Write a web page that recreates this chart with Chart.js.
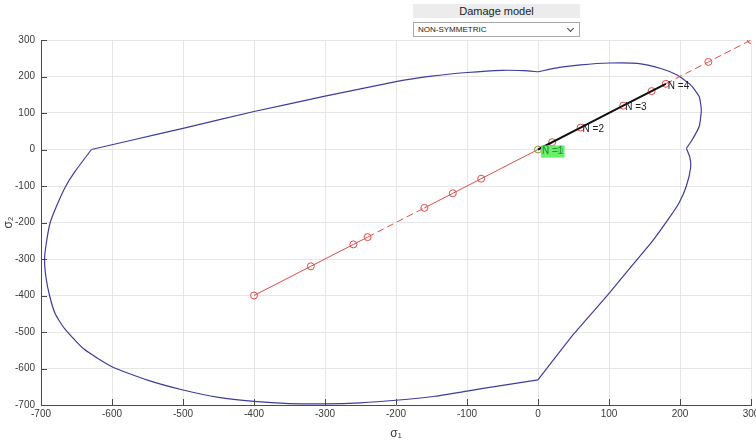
<!DOCTYPE html>
<html>
<head>
<meta charset="utf-8">
<script src="https://cdn.jsdelivr.net/npm/chart.js@4.4.1/dist/chart.umd.min.js"></script>
<style>
  html, body { margin: 0; padding: 0; background: #ffffff; }
  #wrap { position: relative; width: 756px; height: 446px; overflow: hidden; }
  #plot { position: absolute; left: 0; top: 0; display: block; }
  .panel-title {
    position: absolute; left: 413px; top: 4px; width: 167px; height: 14px;
    background: #ececec; color: #222; font: 11px "Liberation Sans", Arial, sans-serif;
    text-align: center; line-height: 14px;
  }
  .panel-select {
    position: absolute; left: 413px; top: 22px; width: 167px; height: 15px;
    background: #ffffff; border: 1px solid #a9a9a9; box-sizing: border-box;
    font: 8px "Liberation Sans", Arial, sans-serif; color: #222; line-height: 13px;
    padding-left: 4px;
  }
  .panel-select .chev {
    position: absolute; right: 6px; top: 3px; width: 4px; height: 4px;
    border-right: 1.3px solid #444; border-bottom: 1.3px solid #444; transform: rotate(45deg);
  }
</style>
</head>
<body>
<div id="wrap">
  <canvas id="plot" width="756" height="446"></canvas>
  <div class="panel-title">Damage model</div>
  <div class="panel-select">NON-SYMMETRIC<span class="chev"></span></div>
</div>
<script>
// Damage surface outline, split at its sharp corners so each smooth piece can be curved
const surfTopLeftS1  = [-629, -571, -500, -400, -300, -200, -150, -100, -50, -20, 0];
const surfTopLeftS2  = [0, 26, 58, 104, 146, 186, 201, 211, 217, 216, 213];
const surfTopRightS1 = [0, 30, 60, 100, 140, 173, 196, 215, 227, 230, 227, 217, 209];
const surfTopRightS2 = [213, 225, 232, 237, 236, 222, 204, 177, 145, 108, 63, 26, 3];
const surfRightS1    = [209, 214, 215, 209, 199, 186, 160, 135, 98, 51, 0];
const surfRightS2    = [3, -22, -50, -100, -145, -184, -254, -312, -399, -504, -631];
const surfBottomS1   = [0, -50, -100, -145, -200, -250, -300, -350, -400, -450, -500, -550, -600, -640, -667, -680, -688, -693, -695, -692, -687, -677, -665, -652, -629];
const surfBottomS2   = [-631, -646, -662, -676, -687, -694, -697, -696, -690, -679, -659, -632, -595, -546, -490, -450, -400, -350, -300, -250, -200, -150, -100, -60, 0];

// Proportional load path (sigma2 = sigma1), with the marked load steps
const pathS1 = [-400, -320, -260, -240, -160, -120, -80, 0, 20, 60, 120, 160, 180, 240, 300];
const pathS2 = [-400, -320, -260, -240, -160, -120, -80, 0, 20, 60, 120, 160, 180, 240, 300];
const pathDashedFrom = [3, 12, 13];   // segments starting at these steps are dashed

// Applied cycles
const cycleS1 = [0, 60, 120, 180];
const cycleS2 = [0, 60, 120, 180];

// Cycle annotations
const labelS1 = [0, 0, 60, 120, 180];
const labelS2 = [0, 0, 60, 120, 180];
const labelText = ['N =0', 'N =1', 'N =2', 'N =3', 'N =4'];
const labelHighlight = [true, true, false, false, false];

// Axis setup
const axisS1 = { min: -700, max: 300, step: 100 };
const axisS2 = { min: -700, max: 300, step: 100 };

const pts = (xs, ys) => xs.map((v, i) => ({ x: v, y: ys[i] }));

const BLUE = '#3d3d9c';
const RED = '#de4b47';
const FONT = '"Liberation Sans", Arial, sans-serif';

const surfStyle = {
  showLine: true, borderColor: BLUE, borderWidth: 1.2, pointRadius: 0,
  tension: 0.18, fill: false, order: 3
};

const innerTicks = {
  id: 'innerTicks',
  beforeDatasetsDraw(chart) {
    const { ctx, chartArea: a, scales: { x, y } } = chart;
    ctx.save();
    ctx.strokeStyle = '#4a4a4a';
    ctx.lineWidth = 1;
    ctx.beginPath();
    x.ticks.forEach(t => {
      const px = Math.round(x.getPixelForValue(t.value)) + 0.5;
      ctx.moveTo(px, a.bottom);
      ctx.lineTo(px, a.bottom - 6);
    });
    y.ticks.forEach(t => {
      const py = Math.round(y.getPixelForValue(t.value)) + 0.5;
      ctx.moveTo(a.left, py);
      ctx.lineTo(a.left + 6, py);
    });
    ctx.stroke();
    ctx.restore();
  }
};

const cycleLabels = {
  id: 'cycleLabels',
  afterDatasetsDraw(chart) {
    const { ctx, scales: { x, y } } = chart;
    ctx.save();
    ctx.font = '10px ' + FONT;
    ctx.textBaseline = 'middle';
    ctx.textAlign = 'left';
    labelText.forEach((txt, i) => {
      const cx = x.getPixelForValue(labelS1[i]);
      const py = y.getPixelForValue(labelS2[i]) + 2;
      if (labelHighlight[i]) {
        const px = cx + 4;
        const w = ctx.measureText(txt).width;
        ctx.fillStyle = 'rgba(90,240,90,0.7)';
        ctx.fillRect(px - 1, py - 6, w + 2, 12);
        ctx.fillStyle = '#2a8a50';
        ctx.fillText(txt, px, py);
      } else {
        ctx.fillStyle = '#222222';
        ctx.fillText(txt, cx + 2, py);
      }
    });
    ctx.restore();
  }
};

new Chart(document.getElementById('plot'), {
  type: 'scatter',
  data: {
    datasets: [
      {
        data: pts(cycleS1, cycleS2), showLine: true, borderColor: '#111111',
        borderWidth: 2, pointRadius: 0, order: 0
      },
      {
        data: pts(pathS1, pathS2), showLine: true, borderColor: RED, borderWidth: 1,
        pointRadius: 3.5, pointBorderWidth: 1, pointStyle: 'circle',
        pointBackgroundColor: 'rgba(0,0,0,0)',
        pointBorderColor: c => (c.raw && c.raw.x === 0 ? '#8c9a3c' : RED),
        segment: { borderDash: c => (pathDashedFrom.includes(c.p0DataIndex) ? [7, 4] : undefined) },
        order: 1
      },
      Object.assign({ data: pts(surfTopLeftS1, surfTopLeftS2) }, surfStyle),
      Object.assign({ data: pts(surfTopRightS1, surfTopRightS2) }, surfStyle),
      Object.assign({ data: pts(surfRightS1, surfRightS2) }, surfStyle),
      Object.assign({ data: pts(surfBottomS1, surfBottomS2) }, surfStyle)
    ]
  },
  options: {
    responsive: false,
    animation: false,
    events: [],
    layout: { padding: { left: 0, right: 2, top: 40, bottom: 0 } },
    plugins: { legend: { display: false }, tooltip: { enabled: false } },
    scales: {
      x: {
        type: 'linear', min: axisS1.min, max: axisS1.max,
        ticks: { stepSize: axisS1.step, color: '#3a3a3a', font: { family: FONT, size: 10 }, padding: 3, maxRotation: 0 },
        grid: { color: '#e6e6e6', drawTicks: false },
        border: { color: '#4a4a4a' },
        title: { display: true, text: 'σ₁', color: '#3a3a3a', font: { family: FONT, size: 12 }, padding: { top: 0, bottom: 5 } },
        afterFit(s) { s.height = 41; s.paddingLeft = 0; s.paddingRight = 0; }
      },
      y: {
        type: 'linear', min: axisS2.min, max: axisS2.max,
        ticks: { stepSize: axisS2.step, color: '#3a3a3a', font: { family: FONT, size: 10 }, padding: 6 },
        grid: { color: '#e6e6e6', drawTicks: false },
        border: { color: '#4a4a4a' },
        title: { display: true, text: 'σ₂', color: '#3a3a3a', font: { family: FONT, size: 12 }, padding: { top: 1, bottom: 0 } },
        afterFit(s) { s.width = 41; s.paddingTop = 0; s.paddingBottom = 0; }
      }
    }
  },
  plugins: [innerTicks, cycleLabels]
});
</script>
</body>
</html>
